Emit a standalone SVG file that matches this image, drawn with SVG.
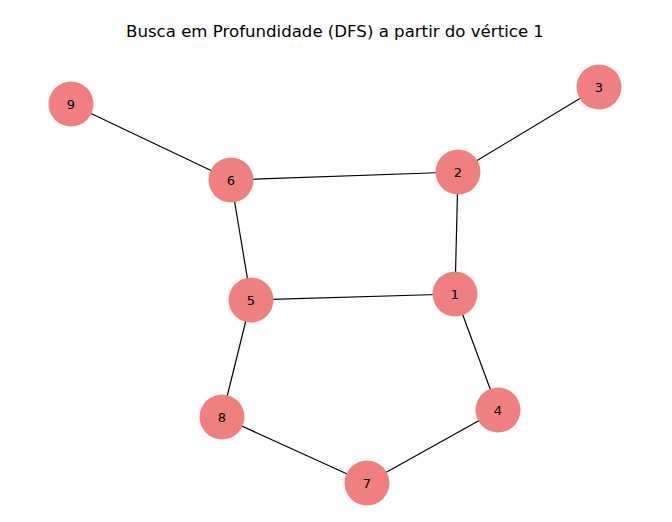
<svg xmlns="http://www.w3.org/2000/svg" width="672" height="522" viewBox="0 0 672 522">
<style>
.n{fill:#f08080}
.l{font-family:"DejaVu Sans",sans-serif;font-size:13px;fill:#000;text-anchor:middle;dominant-baseline:central}
.e{stroke:#000;stroke-width:1.2}
</style>
<rect width="672" height="522" fill="#fff"/>
<text x="335" y="31" font-family="DejaVu Sans, sans-serif" font-size="16.6" text-anchor="middle" dominant-baseline="central">Busca em Profundidade (DFS) a partir do vértice 1</text>
<g id="edges">
<line class="e" x1="71" y1="104" x2="231" y2="180"/>
<line class="e" x1="599" y1="87" x2="458" y2="172"/>
<line class="e" x1="231" y1="180" x2="458" y2="172"/>
<line class="e" x1="231" y1="180" x2="251" y2="300"/>
<line class="e" x1="458" y1="172" x2="455" y2="294"/>
<line class="e" x1="251" y1="300" x2="455" y2="294"/>
<line class="e" x1="251" y1="300" x2="222" y2="417"/>
<line class="e" x1="455" y1="294" x2="498" y2="410"/>
<line class="e" x1="222" y1="417" x2="367" y2="483"/>
<line class="e" x1="498" y1="410" x2="367" y2="483"/>
</g>
<g id="n9"><circle class="n" cx="71" cy="104" r="22.5"/><text class="l" x="71" y="104">9</text></g>
<g id="n3"><circle class="n" cx="599" cy="87" r="22.5"/><text class="l" x="599" y="87">3</text></g>
<g id="n6"><circle class="n" cx="231" cy="180" r="22.5"/><text class="l" x="231" y="180">6</text></g>
<g id="n2"><circle class="n" cx="458" cy="172" r="22.5"/><text class="l" x="458" y="172">2</text></g>
<g id="n5"><circle class="n" cx="251" cy="300" r="22.5"/><text class="l" x="251" y="300">5</text></g>
<g id="n1"><circle class="n" cx="455" cy="294" r="22.5"/><text class="l" x="455" y="294">1</text></g>
<g id="n8"><circle class="n" cx="222" cy="417" r="22.5"/><text class="l" x="222" y="417">8</text></g>
<g id="n4"><circle class="n" cx="498" cy="410" r="22.5"/><text class="l" x="498" y="410">4</text></g>
<g id="n7"><circle class="n" cx="367" cy="483" r="22.5"/><text class="l" x="367" y="483">7</text></g>
</svg>
